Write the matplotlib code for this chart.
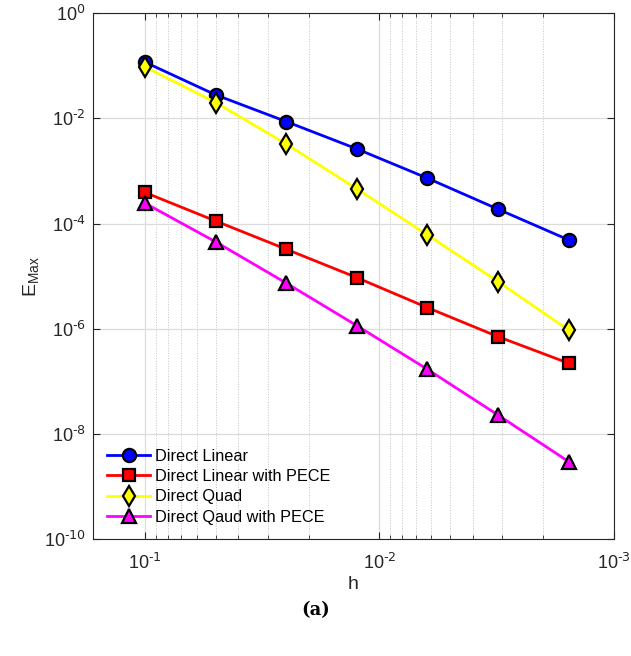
#!/usr/bin/env python3
"""Max error vs step size h, log-log with reversed h axis."""

import matplotlib
matplotlib.use('Agg')
import matplotlib.pyplot as plt
from matplotlib.ticker import LogLocator, FixedLocator, NullLocator, FuncFormatter
import numpy as np

plt.rcParams.update({
    'font.family': ['Liberation Sans', 'DejaVu Sans'],
    'mathtext.default': 'regular',
    'font.size': 11,
    'axes.edgecolor': '#262626',
    'xtick.color': '#262626',
    'ytick.color': '#262626',
})

# step sizes
h = [0.1, 0.05, 0.025, 0.0125, 0.00625, 0.003125, 0.0015625]

# max errors
direct_linear = [0.117, 0.028, 0.0087, 0.00263, 7.3e-4, 1.88e-4, 4.9e-5]
direct_linear_pece = [3.9e-4, 1.12e-4, 3.26e-5, 9.4e-6, 2.53e-6, 7.1e-7, 2.22e-7]
direct_quad = [0.095, 0.020, 0.00327, 4.57e-4, 6.1e-5, 7.9e-6, 9.5e-7]
direct_quad_pece = [2.44e-4, 4.5e-5, 7.4e-6, 1.15e-6, 1.7e-7, 2.3e-8, 3.0e-9]

labels = ['Direct Linear', 'Direct Linear with PECE',
          'Direct Quad', 'Direct Qaud with PECE']


def pow10(v, pos):
    e = int(round(np.log10(v)))
    return r'$10^{\text{%d}}$' % e


fig = plt.figure(figsize=(6.31, 6.56), dpi=100)
ax = fig.add_axes([0.147, 0.178, 0.826, 0.802])

style = dict(linewidth=2, markeredgecolor='black', markeredgewidth=1.6)
ax.loglog(h, direct_linear, '-o', color='#0000ff', markerfacecolor='#0000ff',
          markersize=9.5, label=labels[0], **style)
ax.loglog(h, direct_linear_pece, '-s', color='#ff0000', markerfacecolor='#ff0000',
          markersize=8, label=labels[1], **style)
ax.loglog(h, direct_quad, '-d', color='#ffff00', markerfacecolor='#ffff00',
          markersize=10, label=labels[2], **style)
ax.loglog(h, direct_quad_pece, '-^', color='#ff00ff', markerfacecolor='#ff00ff',
          markersize=10.5, label=labels[3], **style)

ax.set_xlim(0.167, 1e-3)
ax.set_ylim(1e-10, 1e0)

ax.xaxis.set_major_locator(LogLocator(base=10, numticks=10))
ax.xaxis.set_minor_locator(LogLocator(base=10, subs=range(2, 10), numticks=20))
ax.yaxis.set_major_locator(FixedLocator([1e0, 1e-2, 1e-4, 1e-6, 1e-8, 1e-10]))
ax.yaxis.set_minor_locator(NullLocator())
ax.xaxis.set_major_formatter(FuncFormatter(pow10))
ax.yaxis.set_major_formatter(FuncFormatter(pow10))

ax.tick_params(which='both', direction='in', top=True, right=True, labelsize=13)
ax.tick_params(axis='x', which='major', pad=10)
ax.tick_params(axis='y', which='major', pad=5)
ax.tick_params(which='major', length=5, width=0.8)
ax.tick_params(which='minor', length=3, width=0.6)

ax.grid(True, which='major', color='#dcdcdc', linewidth=0.9, linestyle='-')
ax.grid(True, which='minor', axis='x', color='#c4c4c4', linewidth=0.7, linestyle=':')
ax.set_axisbelow(True)

ax.set_xlabel('h', fontsize=14, color='#262626', labelpad=2)
ax.set_ylabel('E$_{Max}$', fontsize=14, color='#262626', labelpad=2)

leg = ax.legend(loc='lower left', frameon=False, fontsize=11.7,
                handlelength=2.6, handletextpad=0.3, labelspacing=0.33,
                bbox_to_anchor=(0.0, 0.0))

fig.text(0.5, 0.07, '(a)', ha='center', va='center', fontsize=13,
         fontweight='bold', family='DejaVu Serif')

fig.savefig('out.png', dpi=100)
